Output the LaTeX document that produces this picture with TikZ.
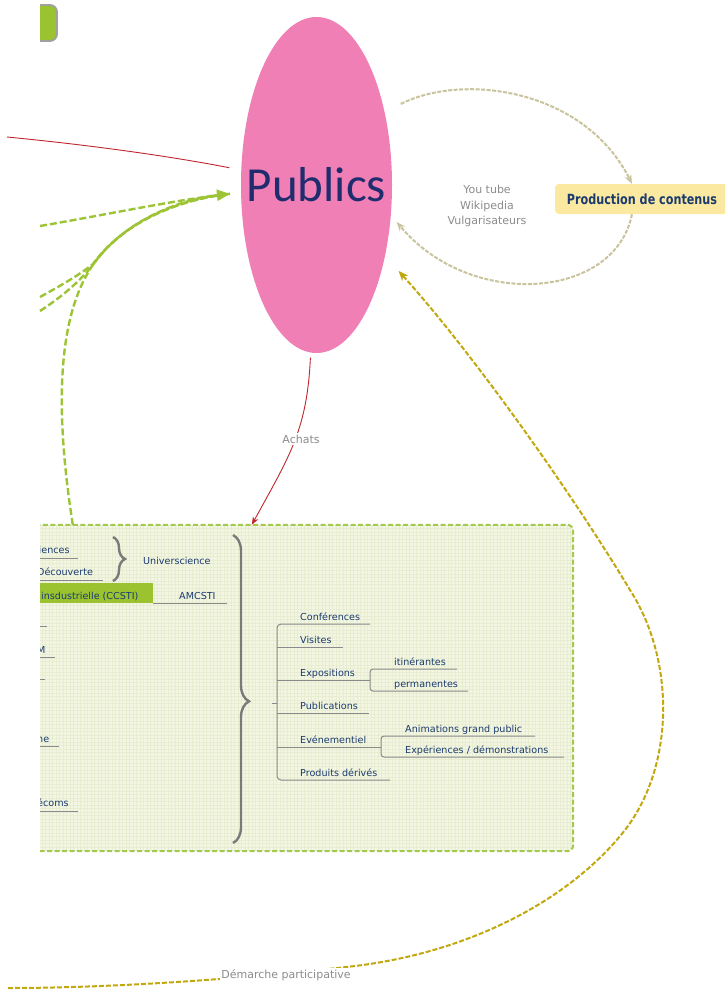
\documentclass[tikz,border=0pt]{standalone}
\usepackage{fontspec}
\setmainfont{DejaVu Sans}
\newfontfamily\pubfont{Carlito}
\newfontfamily\prodfont{DejaVu Sans}[FakeStretch=0.8]
\usetikzlibrary{shapes.geometric,arrows.meta,decorations.pathreplacing,calc}
\definecolor{pubpink}{HTML}{EF7FB5}
\definecolor{pubnavy}{HTML}{1F2D6E}
\definecolor{itemblue}{HTML}{1B3B6F}
\definecolor{beigec}{HTML}{C9C39E}
\definecolor{olivec}{HTML}{C2A80F}
\definecolor{greenc}{HTML}{9CC434}
\definecolor{borderc}{HTML}{A5C84E}
\definecolor{redc}{HTML}{C0262D}
\definecolor{prodfill}{HTML}{FCE9A1}
\definecolor{panelfill}{HTML}{F3F6E2}
\definecolor{gridc}{HTML}{E8EDD2}
\definecolor{treegray}{HTML}{8A8A8A}
\definecolor{bracegray}{HTML}{7A7A7A}
\definecolor{lblgray}{HTML}{8C8C8C}
\definecolor{tabgreen}{HTML}{9BC22F}
\definecolor{tabgray}{HTML}{A0A0A0}
\begin{document}
\begin{tikzpicture}[x=1pt,y=-1pt,
  item/.style={font=\fontsize{9.6pt}{11pt}\selectfont, text=itemblue, inner sep=0pt, anchor=base west},
  tree/.style={draw=treegray, line width=1pt},
  graylbl/.style={font=\fontsize{11pt}{15.5pt}\selectfont, text=lblgray, inner sep=1.5pt},
  bracestyle/.style={draw=bracegray, line width=2.4pt, decorate, decoration={brace, amplitude=#1}},
  greendash/.style={draw=greenc, line width=2.4pt, dash pattern=on 7pt off 3pt},
  beigedash/.style={draw=beigec, line width=2pt, dash pattern=on 4pt off 1.5pt},
  olivedash/.style={draw=olivec, line width=2pt, dash pattern=on 5pt off 2pt},
  redline/.style={draw=redc, line width=0.9pt},
  panelborder/.style={draw=borderc, line width=2pt, dash pattern=on 5pt off 2.5pt}
]
\useasboundingbox (0,0) rectangle (725,990);
\fill[white] (0,0) rectangle (725,990);

% main nodes
\node[ellipse, fill=pubpink, minimum width=151pt, minimum height=336pt, inner sep=0pt,
      font=\pubfont\fontsize{49pt}{55pt}\selectfont, text=pubnavy] (Publics) at (316.5,185) {\makebox[0pt]{Publics}};
\node[fill=prodfill, rounded corners=4pt, minimum width=174pt, minimum height=30pt, inner sep=0pt,
      font=\prodfont\bfseries\fontsize{14pt}{16pt}\selectfont, text=itemblue] (Production) at (642,199) {Production de contenus};

% clipped left region
\begin{scope}
\clip (40,0) rectangle (725,990);
\draw[fill=tabgreen, draw=tabgray, line width=1.8pt, rounded corners=7pt] (-20,5) rectangle (57,41);
\node[minimum width=673pt, minimum height=326pt, fill=panelfill, inner sep=0pt, rounded corners=6pt] (panel) at (236.5,688) {};
\begin{scope}
\clip[rounded corners=6pt] (panel.north west) rectangle (panel.south east);
\draw[gridc, line width=0.5pt, step=3.5pt] (-100,525) grid (573,851);
\end{scope}
\draw[panelborder, rounded corners=6pt] (panel.north west) rectangle (panel.south east);

% left items
\node[item] (sci) at (38.5,553) {iences};
\draw[tree] (40,558) -- (78,558);
\node[item] (dec) at (37,575) {Découverte};
\draw[tree] (40,580) -- (103,580);
\draw[bracestyle=12pt] (113,537) -- (113,581);
\node[item] (univ) at (143,564) {Universcience};
\fill[tabgreen] (30,583) rectangle (153,603);
\node[item] (ccsti) at (41,599) {insdustrielle (CCSTI)};
\draw[tree] (153,603) -- (227,603);
\node[item] (amc) at (179,599) {AMCSTI};
\draw[tree] (39,626) -- (47,626);
\node[item] (m) at (37,653) {M};
\draw[tree] (39,657) -- (55,657);
\draw[tree] (39,679) -- (45,679);
\node[item] (ne) at (37,742) {ne};
\draw[tree] (39,746) -- (59,746);
\node[item] (ecoms) at (37,806) {écoms};
\draw[tree] (39,811) -- (78,811);
\end{scope}

% big brace
\draw[bracestyle=16pt, decoration={aspect=0.54}] (233,535) -- (233,843);
\draw[tree] (272,703) -- (277,703);

% tree
\draw[tree, rounded corners=4pt] (370,624) -- (277,624) -- (277,780) -- (390,780);
\draw[tree] (277,647) -- (343,647);
\draw[tree] (277,680) -- (370,680);
\draw[tree, rounded corners=3pt] (457,669) -- (370,669) -- (370,691) -- (468,691);
\draw[tree] (277,713) -- (369,713);
\draw[tree] (277,747) -- (381,747);
\draw[tree, rounded corners=3pt] (535,736) -- (381,736) -- (381,757) -- (564,757);

\node[item] (conf) at (300,620) {Conférences};
\node[item] (vis) at (300,643) {Visites};
\node[item] (expo) at (300,676) {Expositions};
\node[item] (itin) at (394,665) {itinérantes};
\node[item] (perm) at (394,687) {permanentes};
\node[item] (publ) at (300,709) {Publications};
\node[item] (even) at (300,743) {Evénementiel};
\node[item] (anim) at (405,732) {Animations grand public};
\node[item] (expe) at (405,753) {Expériences / démonstrations};
\node[item] (prod) at (300,776) {Produits dérivés};

% red line from left
\coordinate (rL) at (7,137);
\draw[redline, shorten >=12pt] (rL) .. controls (100,146) and (180,158) .. (Publics);

% green dashed lines
\coordinate (gA) at (40,226);
\coordinate (gB) at (40,297);
\coordinate (gC) at (40,311);
\path (panel.north west) ++(173,0) coordinate (gD);
\draw[greendash, shorten >=11pt] (gA) .. controls (110,214) and (180,199) .. (Publics);
\draw[greendash, shorten >=11pt] (gB) .. controls (58,287) and (78,276) .. (93,264) .. controls (128,216) and (190,198) .. (Publics);
\draw[greendash, shorten >=11pt] (gC) .. controls (60,298) and (80,282) .. (95,262) .. controls (130,215) and (190,198) .. (Publics);
\draw[greendash, shorten >=11pt, -{Triangle[length=13pt,width=11pt]}] (gD) .. controls (58,430) and (52,320) .. (95,262) .. controls (130,215) and (190,198) .. (Publics);

% Achats
\path (panel.north west) ++(352,0) coordinate (achEnd);
\draw[redline, shorten <=5pt, -{Stealth[length=8pt,width=6pt]}] (Publics.-92) .. controls (307,430) and (290,455) .. (achEnd);
\node[graylbl, fill=white] (achats) at (301,439) {Achats};

% beige loop
\draw[beigedash, shorten <=18pt, -{Stealth[length=9pt,width=7pt]}] (Publics.47) .. controls (465,72) and (585,90) .. ([xshift=-10pt]Production.north);
\draw[beigedash, shorten >=9pt, -{Stealth[length=9pt,width=7pt]}] ([xshift=-10pt]Production.south) .. controls (615,300) and (470,310) .. (Publics.-22);
\node[graylbl, align=center] (yt) at (487,206) {You tube\\Wikipedia\\Vulgarisateurs};

% olive
\coordinate (oL) at (8,988);
\draw[olivedash, shorten >=20pt, -{Stealth[length=10pt,width=8pt]}] (oL) .. controls (120,988) and (250,978) .. (355,966) .. controls (470,952) and (570,900) .. (625,830) .. controls (675,765) and (675,660) .. (630,590) .. controls (570,490) and (470,350) .. (Publics.-46);
\node[graylbl, fill=white] (dem) at (286,975) {Démarche participative};
\end{tikzpicture}
\end{document}
